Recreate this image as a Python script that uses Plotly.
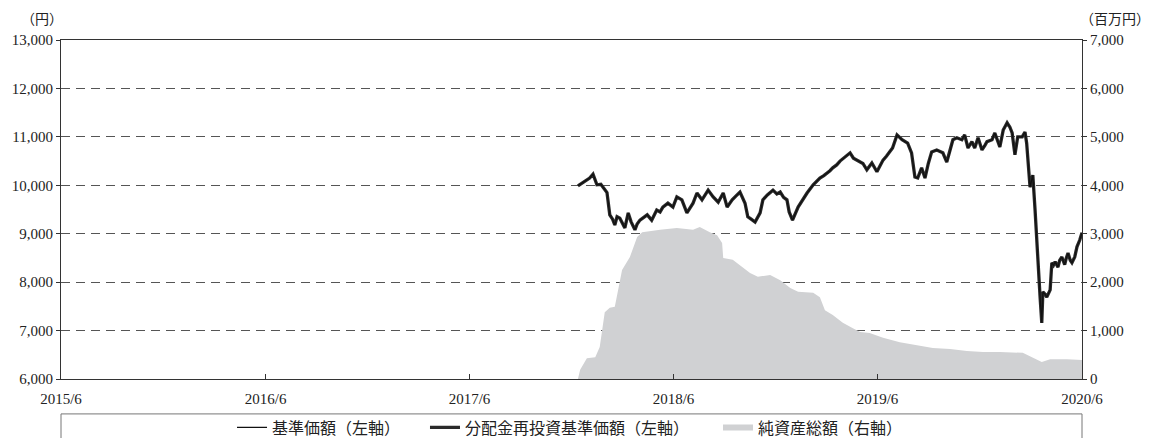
import plotly.graph_objects as go

# ---- data ----
nav_dates = [
    "2017-12-12", "2017-12-18", "2017-12-25", "2018-01-02", "2018-01-08", "2018-01-15",
    "2018-01-22", "2018-01-29", "2018-02-02", "2018-02-07", "2018-02-12", "2018-02-16",
    "2018-02-20", "2018-02-25", "2018-03-01", "2018-03-06", "2018-03-12", "2018-03-17",
    "2018-03-24", "2018-03-28", "2018-04-02", "2018-04-09", "2018-04-15", "2018-04-23",
    "2018-05-02", "2018-05-08", "2018-05-13", "2018-05-22", "2018-05-31", "2018-06-07",
    "2018-06-16", "2018-06-25", "2018-07-06", "2018-07-13", "2018-07-22", "2018-08-02",
    "2018-08-11", "2018-08-20", "2018-08-29", "2018-09-05", "2018-09-14", "2018-09-21",
    "2018-09-28", "2018-10-07", "2018-10-12", "2018-10-18", "2018-10-25", "2018-11-03",
    "2018-11-08", "2018-11-16", "2018-11-26", "2018-12-03", "2018-12-09", "2018-12-15",
    "2018-12-21", "2018-12-25", "2018-12-31", "2019-01-10", "2019-01-18", "2019-01-26",
    "2019-02-06", "2019-02-12", "2019-02-18", "2019-02-25", "2019-03-03", "2019-03-08",
    "2019-03-13", "2019-03-20", "2019-03-26", "2019-04-03", "2019-04-13", "2019-04-19",
    "2019-04-25", "2019-05-06", "2019-05-13", "2019-05-22", "2019-05-31", "2019-06-05",
    "2019-06-11", "2019-06-17", "2019-06-23", "2019-06-28", "2019-07-06", "2019-07-15",
    "2019-07-25", "2019-08-01", "2019-08-07", "2019-08-12", "2019-08-19", "2019-08-25",
    "2019-08-31", "2019-09-06", "2019-09-15", "2019-09-26", "2019-10-03", "2019-10-09",
    "2019-10-14", "2019-10-21", "2019-10-30", "2019-11-04", "2019-11-10", "2019-11-17",
    "2019-11-22", "2019-11-28", "2019-12-05", "2019-12-10", "2019-12-14", "2019-12-23",
    "2019-12-28", "2020-01-06", "2020-01-12", "2020-01-19", "2020-01-24", "2020-01-28",
    "2020-02-02", "2020-02-07", "2020-02-15", "2020-02-20", "2020-02-23", "2020-02-29",
    "2020-03-05", "2020-03-09", "2020-03-12", "2020-03-16", "2020-03-18", "2020-03-21",
    "2020-03-23", "2020-03-27", "2020-03-30", "2020-04-05", "2020-04-08", "2020-04-11",
    "2020-04-14", "2020-04-19", "2020-04-22", "2020-04-26", "2020-05-01", "2020-05-04",
    "2020-05-07", "2020-05-11", "2020-05-14", "2020-05-19", "2020-05-23", "2020-05-28",
    "2020-06-01",
]
nav = [
    9990, 10040, 10080, 10150, 10230, 10010,
    10020, 9900, 9850, 9390, 9300, 9180,
    9350, 9320, 9220, 9120, 9430, 9250,
    9080, 9200, 9280, 9330, 9390, 9280,
    9490, 9450, 9550, 9630, 9550, 9760,
    9700, 9430, 9630, 9840, 9700, 9900,
    9760, 9650, 9840, 9550, 9700, 9780,
    9860, 9630, 9350, 9300, 9240, 9430,
    9700, 9800, 9900, 9820, 9860, 9750,
    9700, 9450, 9280, 9550, 9700, 9840,
    10010, 10080, 10150, 10200, 10250, 10300,
    10360, 10420, 10500, 10580, 10670, 10560,
    10520, 10450, 10320, 10460, 10280, 10400,
    10520, 10600, 10690, 10770, 11040, 10940,
    10870, 10670, 10170, 10150, 10360, 10150,
    10450, 10690, 10730, 10670, 10480, 10700,
    10940, 10980, 10940, 11040, 10770, 10900,
    10770, 10980, 10730, 10820, 10900, 10940,
    11080, 10790, 11140, 11290, 11200, 11080,
    10630, 11000, 11000, 11100, 10870, 9960,
    10210, 9490, 8810, 8200, 7690, 7160,
    7800, 7750, 7690, 7840, 8400, 8350,
    8420, 8310, 8450, 8520, 8360, 8500,
    8600, 8450, 8400, 8520, 8730, 8870,
    9020,
]
# no distributions were paid, so the reinvested NAV equals the NAV
nav_reinvest = list(nav)

aum_dates = [
    "2017-12-12", "2017-12-16", "2017-12-28", "2018-01-12", "2018-01-20", "2018-01-29",
    "2018-02-07", "2018-02-16", "2018-03-01", "2018-03-10", "2018-03-15", "2018-03-28",
    "2018-04-06", "2018-05-08", "2018-06-07", "2018-07-06", "2018-07-18", "2018-08-05",
    "2018-08-18", "2018-08-27", "2018-08-29", "2018-09-15", "2018-09-28", "2018-10-16",
    "2018-10-30", "2018-11-21", "2018-12-09", "2018-12-27", "2019-01-10", "2019-02-06",
    "2019-02-18", "2019-02-27", "2019-03-13", "2019-03-31", "2019-04-18", "2019-05-01",
    "2019-05-18", "2019-06-11", "2019-07-11", "2019-08-11", "2019-09-08", "2019-10-09",
    "2019-11-08", "2019-12-07", "2020-01-06", "2020-02-16", "2020-03-03", "2020-03-21",
    "2020-04-05", "2020-05-05", "2020-06-01",
]
aum = [
    0, 190, 430, 450, 660, 1380,
    1470, 1490, 2250, 2420, 2520, 2930,
    3030, 3080, 3120, 3080, 3140, 3030,
    2970, 2810, 2500, 2460, 2350, 2190,
    2110, 2150, 2040, 1880, 1800, 1780,
    1690, 1420, 1320, 1160, 1050, 970,
    950, 850, 760, 700, 640, 620,
    580, 560, 560, 540, 450, 350,
    410, 410, 390,
]

x_tick_vals = ["2015-06-01", "2016-06-01", "2017-06-01", "2018-06-01", "2019-06-01", "2020-06-01"]
x_tick_text = ["2015/6", "2016/6", "2017/6", "2018/6", "2019/6", "2020/6"]

names = ["基準価額（左軸）", "分配金再投資基準価額（左軸）", "純資産総額（右軸）"]

FONT = "Liberation Serif, Times New Roman, Noto Sans CJK JP, serif"
AREA_COLOR = "#d0d1d3"

fig = go.Figure()

# area on the underlying subplot (right scale)
fig.add_trace(go.Scatter(
    x=aum_dates, y=aum, name=names[2], mode="lines",
    fill="tozeroy", fillcolor=AREA_COLOR, line=dict(width=0, color=AREA_COLOR),
    yaxis="y", showlegend=False,
))
# legend key for the area (a flat gray bar, as in the reference)
fig.add_trace(go.Scatter(
    x=[None], y=[None], name=names[2], mode="lines",
    line=dict(width=6, color=AREA_COLOR), yaxis="y", legend="legend3",
))
# lines on the overlaying subplot (left scale) so they draw above the area
fig.add_trace(go.Scatter(
    x=nav_dates, y=nav_reinvest, name=names[1], mode="lines",
    line=dict(width=3.3, color="#2a2a2a"), yaxis="y2", legend="legend2",
))
fig.add_trace(go.Scatter(
    x=nav_dates, y=nav, name=names[0], mode="lines",
    line=dict(width=1.2, color="#111111"), yaxis="y2", legend="legend",
))

LEG_Y = -0.093
legend_common = dict(
    orientation="h", yanchor="top", xanchor="left", y=LEG_Y,
    font=dict(size=16, color="#222"), bgcolor="rgba(0,0,0,0)",
)

fig.update_layout(
    width=1149, height=438,
    margin=dict(l=53, r=75, t=32, b=67, autoexpand=False),
    paper_bgcolor="white", plot_bgcolor="white",
    font=dict(family=FONT, size=15, color="#222"),
    showlegend=True,
    legend=dict(x=0.1675, **legend_common),
    legend2=dict(x=0.3565, **legend_common),
    legend3=dict(x=0.6435, **legend_common),
    xaxis=dict(
        type="date", range=["2015-06-01", "2020-06-01"],
        tickvals=x_tick_vals, ticktext=x_tick_text,
        ticks="inside", ticklen=5, tickcolor="#333",
        showline=True, linecolor="#333", linewidth=1, mirror=True,
        showgrid=False, tickfont=dict(size=15), zeroline=False,
        ticklabelstandoff=6,
    ),
    yaxis=dict(
        side="right", range=[0, 7000], dtick=1000, tickformat=",",
        showline=True, linecolor="#333", linewidth=1,
        ticks="outside", ticklen=4, tickcolor="#333",
        showgrid=False, zeroline=False, tickfont=dict(size=15),
    ),
    yaxis2=dict(
        overlaying="y", side="left", range=[6000, 13000], dtick=1000, tickformat=",",
        showline=True, linecolor="#333", linewidth=1,
        ticks="outside", ticklen=4, tickcolor="#333",
        showgrid=True, gridcolor="#555", griddash="9px,6px", gridwidth=1,
        zeroline=False, tickfont=dict(size=15),
    ),
    annotations=[
        dict(text="（円）", xref="paper", yref="paper", x=0.004, y=1.0, yshift=11,
             xanchor="right", yanchor="bottom", showarrow=False, font=dict(size=14)),
        dict(text="（百万円）", xref="paper", yref="paper", x=0.996, y=1.0, yshift=11,
             xanchor="left", yanchor="bottom", showarrow=False, font=dict(size=14)),
    ],
    shapes=[
        dict(type="rect", xref="paper", yref="paper", x0=0, x1=1, y0=-0.3, y1=-0.103,
             line=dict(color="#777", width=1), fillcolor="rgba(0,0,0,0)", layer="below"),
    ],
)

fig.write_html("out.html")
